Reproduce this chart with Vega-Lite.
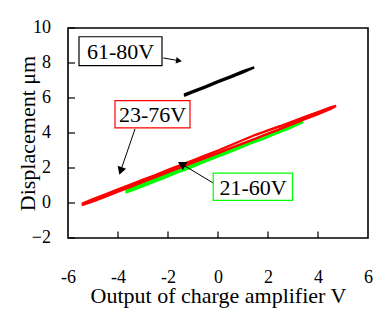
{
  "$schema": "https://vega.github.io/schema/vega-lite/v6.json",
  "width": 300,
  "height": 210,
  "autosize": {"type": "none"},
  "padding": {"left": 68, "top": 28, "right": 19, "bottom": 85},
  "background": "white",
  "config": {
    "view": {"stroke": "black", "strokeWidth": 1.6},
    "font": "Liberation Serif",
    "axis": {"labelOverlap": false, "labelFlush": false}
  },
  "datasets": {
    "curves": [
      {"s": "green", "i": 1, "x": -3.7, "y": 0.6},
      {"s": "green", "i": 2, "x": -3.2, "y": 0.85},
      {"s": "green", "i": 3, "x": -2.7, "y": 1.14},
      {"s": "green", "i": 4, "x": -2.2, "y": 1.4},
      {"s": "green", "i": 5, "x": -1.7, "y": 1.7},
      {"s": "green", "i": 6, "x": -1.2, "y": 1.97},
      {"s": "green", "i": 7, "x": -0.7, "y": 2.27},
      {"s": "green", "i": 8, "x": -0.2, "y": 2.55},
      {"s": "green", "i": 9, "x": 0.3, "y": 2.82},
      {"s": "green", "i": 10, "x": 0.8, "y": 3.1},
      {"s": "green", "i": 11, "x": 1.3, "y": 3.4},
      {"s": "green", "i": 12, "x": 1.8, "y": 3.67},
      {"s": "green", "i": 13, "x": 2.3, "y": 3.96},
      {"s": "green", "i": 14, "x": 2.8, "y": 4.24},
      {"s": "green", "i": 15, "x": 3.41, "y": 4.63},
      {"s": "green", "i": 16, "x": 2.8, "y": 4.37},
      {"s": "green", "i": 17, "x": 2.3, "y": 4.1},
      {"s": "green", "i": 18, "x": 1.8, "y": 3.82},
      {"s": "green", "i": 19, "x": 1.3, "y": 3.53},
      {"s": "green", "i": 20, "x": 0.8, "y": 3.24},
      {"s": "green", "i": 21, "x": 0.3, "y": 2.96},
      {"s": "green", "i": 22, "x": -0.2, "y": 2.68},
      {"s": "green", "i": 23, "x": -0.7, "y": 2.4},
      {"s": "green", "i": 24, "x": -1.2, "y": 2.1},
      {"s": "green", "i": 25, "x": -1.7, "y": 1.83},
      {"s": "green", "i": 26, "x": -2.2, "y": 1.55},
      {"s": "green", "i": 27, "x": -2.7, "y": 1.27},
      {"s": "green", "i": 28, "x": -3.2, "y": 0.99},
      {"s": "green", "i": 29, "x": -3.7, "y": 0.7},
      {"s": "red", "i": 1, "x": -5.45, "y": -0.12},
      {"s": "red", "i": 2, "x": -5.0, "y": 0.1},
      {"s": "red", "i": 3, "x": -4.5, "y": 0.37},
      {"s": "red", "i": 4, "x": -4.0, "y": 0.65},
      {"s": "red", "i": 5, "x": -3.5, "y": 0.92},
      {"s": "red", "i": 6, "x": -3.0, "y": 1.2},
      {"s": "red", "i": 7, "x": -2.5, "y": 1.48},
      {"s": "red", "i": 8, "x": -2.0, "y": 1.76},
      {"s": "red", "i": 9, "x": -1.5, "y": 2.04},
      {"s": "red", "i": 10, "x": -1.0, "y": 2.3},
      {"s": "red", "i": 11, "x": -0.5, "y": 2.58},
      {"s": "red", "i": 12, "x": 0.0, "y": 2.85},
      {"s": "red", "i": 13, "x": 0.5, "y": 3.13},
      {"s": "red", "i": 14, "x": 1.0, "y": 3.41},
      {"s": "red", "i": 15, "x": 1.5, "y": 3.68},
      {"s": "red", "i": 16, "x": 2.0, "y": 3.96},
      {"s": "red", "i": 17, "x": 2.5, "y": 4.24},
      {"s": "red", "i": 18, "x": 3.0, "y": 4.52},
      {"s": "red", "i": 19, "x": 3.5, "y": 4.8},
      {"s": "red", "i": 20, "x": 4.0, "y": 5.08},
      {"s": "red", "i": 21, "x": 4.5, "y": 5.37},
      {"s": "red", "i": 22, "x": 4.72, "y": 5.55},
      {"s": "red", "i": 23, "x": 4.5, "y": 5.47},
      {"s": "red", "i": 24, "x": 4.0, "y": 5.2},
      {"s": "red", "i": 25, "x": 3.5, "y": 4.93},
      {"s": "red", "i": 26, "x": 3.0, "y": 4.67},
      {"s": "red", "i": 27, "x": 2.5, "y": 4.4},
      {"s": "red", "i": 28, "x": 2.0, "y": 4.15},
      {"s": "red", "i": 29, "x": 1.5, "y": 3.9},
      {"s": "red", "i": 30, "x": 1.0, "y": 3.6},
      {"s": "red", "i": 31, "x": 0.5, "y": 3.3},
      {"s": "red", "i": 32, "x": 0.0, "y": 3.0},
      {"s": "red", "i": 33, "x": -0.5, "y": 2.72},
      {"s": "red", "i": 34, "x": -1.0, "y": 2.44},
      {"s": "red", "i": 35, "x": -1.5, "y": 2.17},
      {"s": "red", "i": 36, "x": -2.0, "y": 1.89},
      {"s": "red", "i": 37, "x": -2.5, "y": 1.6},
      {"s": "red", "i": 38, "x": -3.0, "y": 1.33},
      {"s": "red", "i": 39, "x": -3.5, "y": 1.05},
      {"s": "red", "i": 40, "x": -4.0, "y": 0.78},
      {"s": "red", "i": 41, "x": -4.5, "y": 0.5},
      {"s": "red", "i": 42, "x": -5.0, "y": 0.22},
      {"s": "red", "i": 43, "x": -5.45, "y": -0.05},
      {"s": "black", "i": 1, "x": -1.36, "y": 6.12},
      {"s": "black", "i": 2, "x": -1.0, "y": 6.33},
      {"s": "black", "i": 3, "x": -0.5, "y": 6.61},
      {"s": "black", "i": 4, "x": 0.0, "y": 6.9},
      {"s": "black", "i": 5, "x": 0.5, "y": 7.18},
      {"s": "black", "i": 6, "x": 1.0, "y": 7.47},
      {"s": "black", "i": 7, "x": 1.45, "y": 7.75},
      {"s": "black", "i": 8, "x": 1.0, "y": 7.53},
      {"s": "black", "i": 9, "x": 0.5, "y": 7.24},
      {"s": "black", "i": 10, "x": 0.0, "y": 6.96},
      {"s": "black", "i": 11, "x": -0.5, "y": 6.67},
      {"s": "black", "i": 12, "x": -1.0, "y": 6.39},
      {"s": "black", "i": 13, "x": -1.36, "y": 6.19}
    ],
    "boxes": [
      {"s": "black", "label": "61-80V", "x": -5.56, "xe": -2.24, "y": 7.85, "ye": 9.5},
      {"s": "red", "label": "23-76V", "x": -4.12, "xe": -1.12, "y": 4.29, "ye": 5.85},
      {"s": "green", "label": "21-60V", "x": -0.19, "xe": 2.98, "y": 0.15, "ye": 1.71}
    ],
    "texts": [
      {"label": "61-80V", "x": -3.9, "y": 8.68},
      {"label": "23-76V", "x": -2.62, "y": 5.07},
      {"label": "21-60V", "x": 1.4, "y": 0.93}
    ],
    "arrows": [
      {"label": "61-80V", "x": -2.19, "y": 8.29, "xe": -1.6, "ye": 8.14},
      {"label": "23-76V", "x": -3.32, "y": 4.23, "xe": -3.88, "ye": 1.9},
      {"label": "21-60V", "x": -0.19, "y": 1.14, "xe": -1.41, "ye": 2.19}
    ],
    "heads": [
      {"label": "61-80V", "x": -1.6, "y": 8.14, "dir": 99, "sz": 45},
      {"label": "23-76V", "x": -3.88, "y": 1.9, "dir": 199, "sz": 80},
      {"label": "21-60V", "x": -1.41, "y": 2.19, "dir": 180, "sz": 90}
    ],
    "xticks": [{"v": -4}, {"v": -2}, {"v": 0}, {"v": 2}, {"v": 4}],
    "yticks": [{"v": -2}, {"v": 0}, {"v": 2}, {"v": 4}, {"v": 6}, {"v": 8}, {"v": 10}]
  },
  "layer": [
    {
      "data": {"name": "curves"},
      "mark": {"type": "line", "strokeWidth": 2.4},
      "encoding": {
        "x": {"field": "x", "type": "quantitative", "scale": {"domain": [-6, 6], "nice": false},
          "axis": {"values": [-6, -4, -2, 0, 2, 4, 6], "labelOverlap": false, "labelFlush": false, "labelExpr": "toString(datum.value)",
            "domain": false, "grid": false, "ticks": false,
            "labelFont": "Liberation Serif", "labelFontSize": 18, "labelColor": "black", "labelPadding": 30,
            "title": "Output of charge amplifier V", "titleFont": "Liberation Serif", "titleFontSize": 22, "titleFontWeight": "normal", "titleColor": "black",
            "titleBaseline": "middle", "titleY": 57}},
        "y": {"field": "y", "type": "quantitative", "scale": {"domain": [-2, 10], "nice": false},
          "axis": {"values": [-2, 0, 2, 4, 6, 8, 10], "labels": false,
            "domain": false, "grid": false, "ticks": false,
            "title": "Displacement μm", "titleFont": "Liberation Serif", "titleFontSize": 22, "titleFontWeight": "normal", "titleColor": "black",
            "titleBaseline": "middle", "titleX": -41}},
        "color": {"field": "s", "type": "nominal", "scale": {"domain": ["black", "red", "green"], "range": ["#000000", "#ff0000", "#00ff00"]}, "legend": null},
        "detail": {"field": "s"},
        "order": {"field": "i", "type": "quantitative"}
      }
    },
    {
      "data": {"name": "xticks"},
      "mark": {"type": "rule", "color": "black", "strokeWidth": 1.2},
      "encoding": {
        "x": {"field": "v", "type": "quantitative"},
        "y": {"datum": -2, "type": "quantitative"},
        "y2": {"datum": -1.63}
      }
    },
    {
      "data": {"name": "yticks"},
      "mark": {"type": "rule", "color": "black", "strokeWidth": 1.2},
      "encoding": {
        "y": {"field": "v", "type": "quantitative"},
        "x": {"datum": -6, "type": "quantitative"},
        "x2": {"datum": -5.72}
      }
    },
    {
      "data": {"name": "yticks"},
      "mark": {"type": "text", "font": "Liberation Serif", "fontSize": 18, "color": "black", "align": "right", "baseline": "middle", "dx": -17, "clip": false},
      "encoding": {
        "y": {"field": "v", "type": "quantitative"},
        "x": {"datum": -6, "type": "quantitative"},
        "text": {"field": "v", "type": "quantitative"}
      }
    },
    {
      "data": {"name": "arrows"},
      "mark": {"type": "rule", "color": "black", "strokeWidth": 1},
      "encoding": {
        "x": {"field": "x", "type": "quantitative"},
        "y": {"field": "y", "type": "quantitative"},
        "x2": {"field": "xe"},
        "y2": {"field": "ye"}
      }
    },
    {
      "data": {"name": "heads"},
      "mark": {"type": "point", "shape": "triangle", "filled": true, "color": "black", "opacity": 1},
      "encoding": {
        "x": {"field": "x", "type": "quantitative"},
        "y": {"field": "y", "type": "quantitative"},
        "angle": {"field": "dir", "type": "quantitative", "scale": null},
        "size": {"field": "sz", "type": "quantitative", "scale": null}
      }
    },
    {
      "data": {"name": "boxes"},
      "mark": {"type": "rect", "fill": "white", "strokeWidth": 1.2},
      "encoding": {
        "x": {"field": "x", "type": "quantitative"},
        "x2": {"field": "xe"},
        "y": {"field": "y", "type": "quantitative"},
        "y2": {"field": "ye"},
        "stroke": {"field": "s", "type": "nominal", "scale": {"domain": ["black", "red", "green"], "range": ["#000000", "#ff0000", "#00ff00"]}, "legend": null}
      }
    },
    {
      "data": {"name": "texts"},
      "mark": {"type": "text", "font": "Liberation Serif", "fontSize": 22, "color": "black", "baseline": "middle", "align": "center", "dy": 1},
      "encoding": {
        "x": {"field": "x", "type": "quantitative"},
        "y": {"field": "y", "type": "quantitative"},
        "text": {"field": "label"}
      }
    }
  ]
}
